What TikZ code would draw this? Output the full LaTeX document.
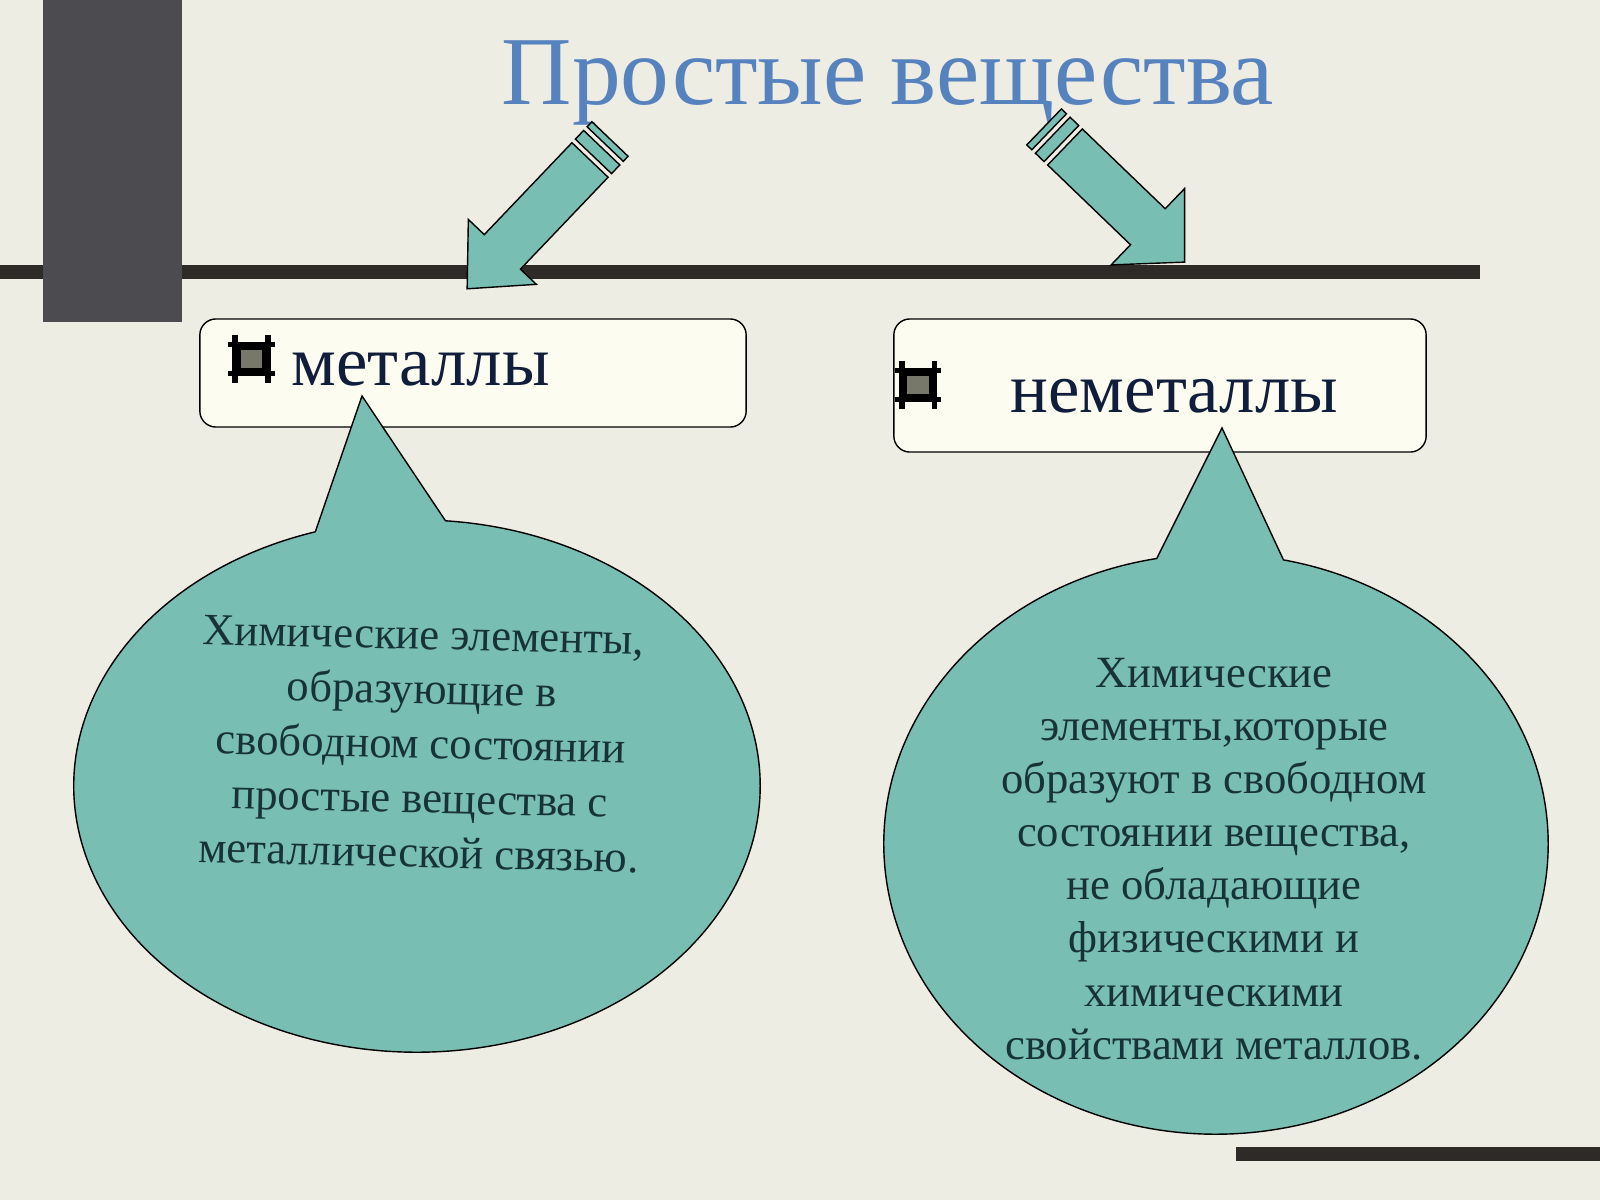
\documentclass[tikz,border=0pt]{standalone}
\usepackage{fontspec}
\setmainfont{Liberation Serif}
\usetikzlibrary{shapes.callouts}
\definecolor{slidebg}{HTML}{EEEDE4}
\definecolor{bardark}{HTML}{4B4B50}
\definecolor{linedark}{HTML}{2D2A28}
\definecolor{titleblue}{HTML}{5682BE}
\definecolor{boxfill}{HTML}{FCFCF0}
\definecolor{tealfill}{HTML}{78BEB2}
\definecolor{labelnavy}{HTML}{101E3C}
\definecolor{bubbleink}{HTML}{173238}
\definecolor{hashgrey}{HTML}{77776A}
\tikzstyle{labelbox} = [rectangle, rounded corners=0.16cm, draw=black, fill=boxfill, inner sep=0pt]
\tikzstyle{bubble} = [ellipse callout, draw=black, fill=tealfill, inner sep=0pt, callout pointer arc=22]
\tikzstyle{bubbletext} = [text=bubbleink, align=center, inner sep=0pt, font=\fontsize{12.7pt}{15.5pt}\selectfont]
\tikzstyle{boxlabel} = [anchor=base west, text=labelnavy, inner sep=0pt, font=\fontsize{20.1pt}{24pt}\selectfont]
\tikzstyle{hashmark} = [rectangle, fill=hashgrey, draw=black, line width=0.055cm, minimum width=0.27cm, minimum height=0.23cm, inner sep=0pt]
\tikzstyle{arrowbody} = [draw=black, fill=tealfill, line join=miter]
\tikzset{pics/stripearrow/.style 2 args={code={
    \filldraw[arrowbody] (0,-25) -- (#1,-25) -- (#1,-#2) -- ({#1+51},0) -- (#1,#2) -- (#1,25) -- (0,25) -- cycle;
    \filldraw[arrowbody] (-5,-25) rectangle (-17,25);
    \filldraw[arrowbody] (-22,-25) rectangle (-29,25);
}}}

\begin{document}
\begin{tikzpicture}[x=0.01cm, y=-0.01cm]
    \useasboundingbox (0,0) rectangle (1600,1200);
    \fill[slidebg] (0,0) rectangle (1600,1200);

    % frame bars
    \fill[linedark] (0,265) rectangle (1480,279);
    \fill[bardark] (43,0) rectangle (182,322);
    \fill[linedark] (1236,1147) rectangle (1600,1161);

    \node (title) [text=titleblue, anchor=base, inner sep=0pt, font=\fontsize{27.7pt}{31pt}\selectfont] at (888,104) {Простые вещества};

    % arrows
    \pic[rotate=226.35] at (590,160) {stripearrow={127}{47}};
    \pic[rotate=-43.9] at (1065,147) {stripearrow={115}{53}};

    % boxes
    \node (metbox) [labelbox, minimum width=5.46cm, minimum height=1.08cm] at (473,373) {};
    \node (nonbox) [labelbox, minimum width=5.32cm, minimum height=1.33cm] at (1160,385.5) {};

    \node (hashA) [hashmark] at (251.5,359) {};
    \node (hashB) [hashmark] at (918,385) {};
    \foreach \b in {hashA, hashB} {
        \draw[line width=0.055cm] ([xshift=-0.07cm]\b.north west) -- ([xshift=0.07cm]\b.north east);
        \draw[line width=0.055cm] ([xshift=-0.07cm]\b.south west) -- ([xshift=0.07cm]\b.south east);
        \draw[line width=0.055cm] ([yshift=0.1cm]\b.north west) -- ([yshift=-0.1cm]\b.south west);
        \draw[line width=0.055cm] ([yshift=0.1cm]\b.north east) -- ([yshift=-0.1cm]\b.south east);
    }

    \node (metlabel) [boxlabel] at (291,385) {металлы};
    \node (nonlabel) [boxlabel] at (1010,412) {неметаллы};

    % callouts
    \node (metbubble) [bubble, minimum width=6.86cm, minimum height=5.32cm, callout absolute pointer={(362,396)}] at (417,786) {};
    \node (nonbubble) [bubble, minimum width=6.64cm, minimum height=5.8cm, callout absolute pointer={(1222,428)}] at (1216,844) {};

    \node (mettext) [bubbletext, rotate=-1.3] at (421,744) {Химические элементы,\\образующие в\\свободном состоянии\\простые вещества с\\металлической связью.};
    \node (nontext) [bubbletext, font=\fontsize{12.7pt}{15.1pt}\selectfont] at (1214,859) {Химические\\элементы,которые\\образуют в свободном\\состоянии вещества,\\не обладающие\\физическими и\\химическими\\свойствами металлов.};
\end{tikzpicture}
\end{document}
